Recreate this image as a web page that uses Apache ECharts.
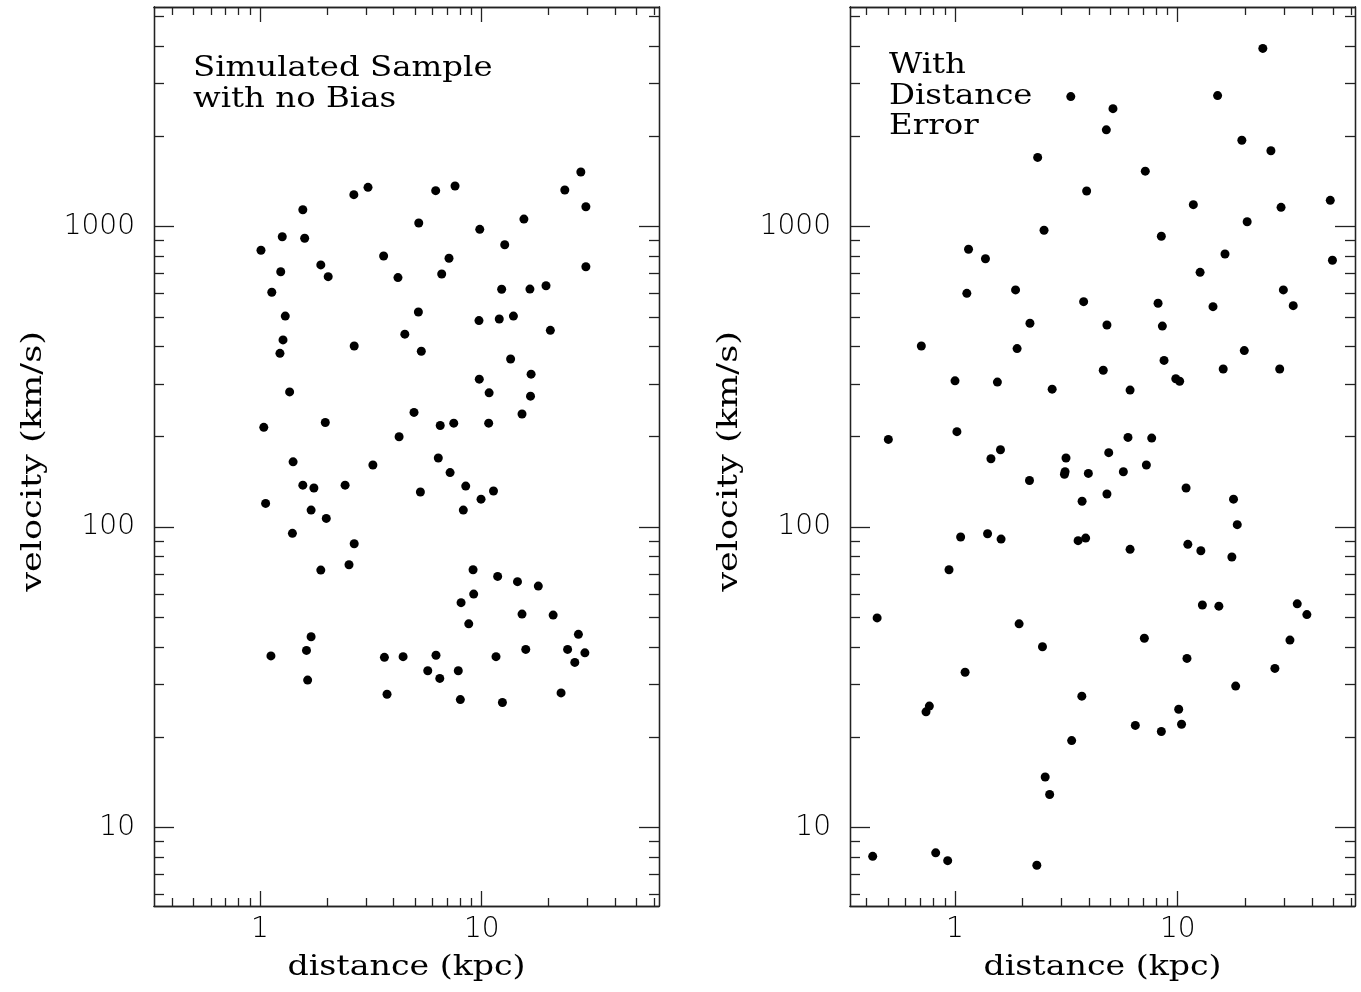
<!DOCTYPE html>
<html>
<head>
<meta charset="utf-8">
<script src="https://cdn.jsdelivr.net/npm/echarts@6/dist/echarts.min.js"></script>
<style>
  html, body { margin: 0; padding: 0; background: #fff; }
  #chart { width: 1361px; height: 992px; }
</style>
</head>
<body>
<div id="chart"></div>
<script>
// left panel: simulated sample, no bias
var leftDistance = [28.0, 23.7, 29.5, 7.58, 6.20, 3.07, 2.65, 1.56, 1.26, 1.59,
  1.01, 5.20, 9.80, 15.5, 12.7, 3.61, 7.12, 1.88, 1.24, 2.03,
  4.19, 6.60, 29.5, 1.13, 12.3, 16.5, 19.5, 1.30, 5.18, 9.72,
  12.0, 13.9, 20.4, 1.27, 1.23, 2.66, 4.50, 5.34, 13.5, 16.7,
  9.75, 10.8, 16.6, 1.36, 1.04, 1.97, 4.95, 6.50, 7.48, 10.75,
  15.2, 4.24, 1.41, 3.23, 6.37, 7.20, 1.56, 1.75, 2.42, 5.29,
  8.47, 11.3, 9.93, 8.26, 1.06, 1.70, 1.99, 1.40, 2.66, 2.52,
  1.88, 9.14, 11.8, 14.5, 18.0, 9.20, 8.07, 8.74, 15.2, 21.0,
  27.3, 24.4, 29.2, 26.3, 1.70, 1.62, 1.12, 1.64, 3.64, 4.42,
  6.22, 11.6, 15.8, 5.71, 7.84, 6.47, 3.74, 8.01, 12.4, 22.8];
var leftVelocity = [1520, 1325, 1165, 1366, 1318, 1352, 1278, 1139, 926, 915,
  835, 1029, 980, 1060, 871, 799, 785, 746, 708, 682,
  677, 696, 736, 605, 619, 620, 636, 504, 520, 487,
  493, 504, 452, 420, 379, 401, 439, 385, 363, 323,
  311, 280, 273, 282, 215, 223, 241, 218, 222, 222,
  238, 200, 165, 161, 170, 152, 138, 135, 138, 131,
  137, 132, 124, 114, 120, 114, 107, 95.4, 88.1, 75.0,
  72.0, 72.2, 68.6, 65.9, 63.7, 59.9, 56.1, 47.7, 51.4, 51.0,
  44.0, 39.2, 38.2, 35.5, 43.2, 38.9, 37.3, 31.0, 36.9, 37.1,
  37.5, 37.1, 39.2, 33.3, 33.3, 31.4, 27.8, 26.7, 26.1, 28.1];

// right panel: same sample with distance error
var rightDistance = [24.1, 3.31, 15.1, 5.12, 4.78, 19.4, 26.2, 2.35, 7.15, 3.90,
  11.75, 29.1, 48.4, 2.51, 8.44, 20.5, 1.15, 1.37, 16.3, 12.6,
  49.5, 1.13, 1.87, 3.78, 8.16, 14.4, 29.8, 33.0, 2.17, 4.81,
  8.53, 0.706, 1.90, 19.9, 8.68, 4.63, 16.0, 28.7, 1.00, 1.55,
  2.73, 6.11, 9.80, 10.2, 0.502, 1.02, 5.98, 7.64, 1.60, 1.45,
  4.90, 3.15, 3.12, 3.10, 3.97, 5.70, 7.23, 2.16, 10.9, 4.81,
  3.72, 17.8, 18.5, 1.06, 1.40, 1.61, 3.57, 3.86, 6.11, 11.1,
  12.7, 17.5, 0.94, 12.9, 15.3, 34.4, 38.0, 0.447, 1.94, 2.47,
  7.08, 31.9, 11.0, 27.3, 1.11, 18.2, 3.71, 0.767, 0.741, 10.1,
  6.45, 10.4, 8.44, 3.34, 2.54, 2.66, 0.427, 0.819, 0.927, 2.33];
var rightVelocity = [3920, 2710, 2730, 2470, 2100, 1940, 1790, 1700, 1530, 1315,
  1184, 1160, 1224, 973, 929, 1039, 841, 782, 811, 705,
  773, 600, 616, 563, 556, 542, 616, 546, 477, 471,
  467, 401, 393, 387, 359, 333, 336, 336, 307, 304,
  288, 286, 312, 306, 196, 208, 199, 198, 181, 169,
  177, 170, 153, 150, 151, 153, 161, 143, 135, 129,
  122, 124, 102, 92.8, 95.1, 91.3, 90.2, 92.0, 84.4, 87.7,
  83.5, 79.6, 72.2, 55.1, 54.6, 55.6, 51.2, 49.9, 47.7, 40.0,
  42.7, 42.1, 36.6, 33.9, 32.9, 29.6, 27.4, 25.4, 24.3, 24.8,
  21.9, 22.1, 20.9, 19.5, 14.75, 12.9, 8.03, 8.25, 7.77, 7.50];

// ticks
var xMajor = [1, 10];
var xMinor = [0.4, 0.5, 0.6, 0.7, 0.8, 0.9, 2, 3, 4, 5, 6, 7, 8, 9, 20, 30, 40, 50, 60];
var yMajor = [10, 100, 1000];
var yMinor = [6, 7, 8, 9, 20, 30, 40, 50, 60, 70, 80, 90,
  200, 300, 400, 500, 600, 700, 800, 900, 2000, 3000, 4000, 5000];

var xTitle = 'distance (kpc)';
var yTitle = 'velocity (km/s)';
var notes = ['Simulated Sample\nwith no Bias', 'With\nDistance\nError'];

var labelFont = 'DejaVu Sans';
var textFont = '27px "DejaVu Serif"';
var ink = '#222';
var yRange = [5.49, 5383];

function zip(xs, ys) {
  return xs.map(function (x, i) { return [x, ys[i]]; });
}

function log10Values(arr) {
  return arr.map(function (v) { return Math.log10(v); });
}

function powLabel(v) {
  return String(Math.round(Math.pow(10, v)));
}

// decorative axis in log10 space: only line + ticks (+ labels on the main one)
function tickAxis(gridIndex, position, range, ticks, len, labels) {
  var ax = {
    type: 'value',
    gridIndex: gridIndex,
    position: position,
    min: Math.log10(range[0]),
    max: Math.log10(range[1]),
    axisLine: { show: true, onZero: false, lineStyle: { color: ink, width: 1.3 } },
    axisTick: {
      show: true, inside: true, length: len,
      customValues: log10Values(ticks),
      lineStyle: { color: ink, width: 1.3 }
    },
    axisLabel: { show: false },
    splitLine: { show: false }
  };
  if (labels) {
    ax.axisLabel = {
      show: true,
      customValues: log10Values(labels),
      formatter: powLabel,
      fontFamily: labelFont,
      fontWeight: 200,
      fontSize: 28,
      color: '#000',
      margin: position === 'bottom' ? 10 : 19
    };
  }
  return ax;
}

var grids = [
  { left: 154, top: 7, width: 505, height: 899, xRange: [0.3325, 63.05], noteY: 53, noteLH: 31 },
  { left: 850, top: 7, width: 505, height: 899, xRange: [0.3377, 62.5], noteY: 51, noteLH: 30.5 }
];

var xAxes = [], yAxes = [], series = [], texts = [];
var panels = [zip(leftDistance, leftVelocity), zip(rightDistance, rightVelocity)];

grids.forEach(function (g, gi) {
  var xi = xAxes.length, yi = yAxes.length;
  // log axes that actually place the points
  xAxes.push({ type: 'log', gridIndex: gi, min: g.xRange[0], max: g.xRange[1], show: false });
  yAxes.push({ type: 'log', gridIndex: gi, min: yRange[0], max: yRange[1], show: false });

  xAxes.push(tickAxis(gi, 'bottom', g.xRange, xMajor, 15, xMajor));
  xAxes.push(tickAxis(gi, 'bottom', g.xRange, xMinor, 8));
  xAxes.push(tickAxis(gi, 'top', g.xRange, xMajor, 15));
  xAxes.push(tickAxis(gi, 'top', g.xRange, xMinor, 8));

  yAxes.push(tickAxis(gi, 'left', yRange, yMajor, 20, yMajor));
  yAxes.push(tickAxis(gi, 'left', yRange, yMinor, 10));
  yAxes.push(tickAxis(gi, 'right', yRange, yMajor, 20));
  yAxes.push(tickAxis(gi, 'right', yRange, yMinor, 10));

  series.push({
    type: 'scatter',
    xAxisIndex: xi,
    yAxisIndex: yi,
    symbol: 'circle',
    symbolSize: 9,
    itemStyle: { color: '#000', opacity: 1 },
    data: panels[gi],
    silent: true
  });

  // the plot font is wide, so texts are stretched a little
  texts.push({
    type: 'text', x: g.left + 39, y: g.noteY, scaleX: 1.2,
    style: { text: notes[gi], x: 0, y: 0, verticalAlign: 'top', font: textFont, fill: '#000', lineHeight: g.noteLH }
  });
  texts.push({
    type: 'text', x: g.left + g.width / 2, y: 954, scaleX: 1.23,
    style: { text: xTitle, x: 0, y: 0, align: 'center', verticalAlign: 'top', font: textFont, fill: '#000' }
  });
  texts.push({
    type: 'text', x: g.left - 120, y: 461.5, rotation: Math.PI / 2, scaleX: 1.3,
    style: { text: yTitle, x: 0, y: 0, align: 'center', verticalAlign: 'middle', font: textFont, fill: '#000' }
  });
});

var chart = echarts.init(document.getElementById('chart'));
chart.setOption({
  animation: false,
  backgroundColor: '#fff',
  grid: grids.map(function (g) {
    return { left: g.left, top: g.top, width: g.width, height: g.height, outerBoundsMode: 'none' };
  }),
  xAxis: xAxes,
  yAxis: yAxes,
  series: series,
  graphic: texts
});
window.addEventListener('resize', chart.resize);
</script>
</body>
</html>
